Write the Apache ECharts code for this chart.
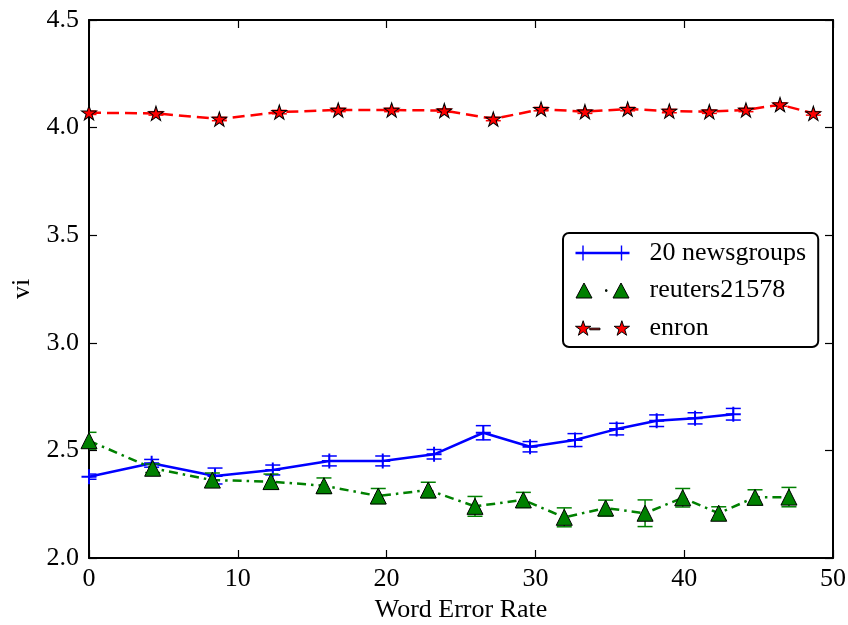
<!DOCTYPE html>
<html><head><meta charset="utf-8">
<script src="https://cdn.jsdelivr.net/npm/echarts@6/dist/echarts.min.js"></script>
<style>html,body{margin:0;padding:0;background:#fff}#c{width:848px;height:625px}</style>
</head><body><div id="c"></div>
<script>
// ---- data ----
const seriesNames = ['20 newsgroups', 'reuters21578', 'enron'];
const newsX = [0, 4.21, 8.47, 12.35, 16.15, 19.74, 23.19, 26.5, 29.64, 32.66, 35.46, 38.15, 40.73, 43.3];
const newsY = [2.378, 2.44, 2.381, 2.409, 2.451, 2.451, 2.482, 2.582, 2.517, 2.548, 2.599, 2.638, 2.649, 2.668];
const newsE = [0.012, 0.018, 0.037, 0.023, 0.023, 0.023, 0.022, 0.033, 0.024, 0.03, 0.027, 0.027, 0.026, 0.027];
const reutX = [0, 4.28, 8.29, 12.23, 15.79, 19.44, 22.8, 25.94, 29.19, 31.94, 34.72, 37.37, 39.9, 42.32, 44.76, 47.04];
const reutY = [2.545, 2.417, 2.362, 2.355, 2.336, 2.288, 2.316, 2.24, 2.27, 2.189, 2.232, 2.208, 2.28, 2.208, 2.282, 2.283];
const reutE = [0.039, 0.02, 0.033, 0.035, 0.036, 0.035, 0.036, 0.046, 0.035, 0.044, 0.037, 0.062, 0.043, 0.03, 0.035, 0.045];
const enronX = [0, 4.5, 8.76, 12.79, 16.75, 20.34, 23.88, 27.17, 30.38, 33.33, 36.2, 39.0, 41.69, 44.15, 46.44, 48.68];
const enronY = [4.069, 4.066, 4.04, 4.072, 4.082, 4.082, 4.079, 4.04, 4.086, 4.074, 4.086, 4.077, 4.074, 4.082, 4.107, 4.066];
const enronE = [0.008, 0.008, 0.008, 0.008, 0.008, 0.008, 0.008, 0.008, 0.008, 0.008, 0.008, 0.008, 0.008, 0.008, 0.008, 0.008];
const xTicks = [0, 10, 20, 30, 40, 50];
const yTicks = [2.0, 2.5, 3.0, 3.5, 4.0, 4.5];
const xTitle = 'Word Error Rate';
const yTitle = 'vi';

// ---- styling helpers ----
const FONT = '"Liberation Serif", "DejaVu Serif", serif';
function starPts(cx, cy, r) {
  const pts = [];
  for (let k = 0; k < 10; k++) {
    const a = k * Math.PI / 5;
    const rr = (k % 2 === 0) ? r : r * 0.381966;
    pts.push([(cx + rr * Math.sin(a)).toFixed(3), (cy - rr * Math.cos(a)).toFixed(3)]);
  }
  return 'M' + pts.map(p => p[0] + ',' + p[1]).join('L') + 'Z';
}
const starSymbol = 'path://' + starPts(50, 50, 50);
const plusSymbol = 'path://M0,8.7H20V11.3H0ZM8.7,0H11.3V20H8.7Z';
const legendNews = 'path://M0,6.3H54V8.7H0ZM6.8,0H8.2V15H6.8ZM0,6.8H15V8.2H0ZM38.5,6.8H53.5V8.2H38.5ZM45.3,0H46.7V15H45.3Z';
const legendReut = 'path://M8,0L16,15H0ZM45,0L53,15H37ZM29.5,6.8H31V8.3H29.5Z';
const legendEnron = 'path://' + starPts(7.5, 7.9, 7.9) + 'M14,7.3H24V8.9H14Z' + starPts(45.5, 7.9, 7.9);

function errSeries(xs, ys, es, color, z) {
  return {
    type: 'custom', silent: true, z: z, clip: true,
    data: xs.map((x, i) => [x, ys[i] - es[i], ys[i] + es[i]]),
    encode: { x: 0, y: [1, 2] },
    renderItem: function (params, api) {
      const x = api.value(0);
      const lo = api.coord([x, api.value(1)]);
      const hi = api.coord([x, api.value(2)]);
      const hw = 7.5;
      const st = { stroke: color, lineWidth: 1.5, fill: null };
      return { type: 'group', children: [
        { type: 'line', shape: { x1: lo[0], y1: lo[1], x2: hi[0], y2: hi[1] }, style: st },
        { type: 'line', shape: { x1: lo[0] - hw, y1: lo[1], x2: lo[0] + hw, y2: lo[1] }, style: st },
        { type: 'line', shape: { x1: hi[0] - hw, y1: hi[1], x2: hi[0] + hw, y2: hi[1] }, style: st }
      ] };
    }
  };
}
const pair = (xs, ys) => xs.map((x, i) => [x, ys[i]]);

const axisCommon = {
  axisLine: { show: true, onZero: false, lineStyle: { color: '#000', width: 2 } },
  axisTick: { show: true, inside: true, length: 8, lineStyle: { color: '#000', width: 1.2 } },
  splitLine: { show: false }
};
const labelStyle = { color: '#000', fontFamily: FONT, fontSize: 26 };

const chart = echarts.init(document.getElementById('c'), null, { renderer: 'canvas' });
chart.setOption({
  animation: false,
  backgroundColor: '#fff',
  grid: { left: 89, right: 15, top: 20, bottom: 67, containLabel: false, outerBoundsMode: 'none' },
  xAxis: [
    Object.assign({ type: 'value', min: xTicks[0], max: xTicks[xTicks.length - 1], interval: 10,
      name: xTitle, nameLocation: 'middle', nameGap: 39,
      nameTextStyle: labelStyle,
      axisLabel: Object.assign({ margin: 8, formatter: v => String(v) }, labelStyle) }, axisCommon),
    Object.assign({ type: 'value', position: 'top', min: xTicks[0], max: xTicks[xTicks.length - 1], interval: 10,
      axisLabel: { show: false } }, axisCommon)
  ],
  yAxis: [
    Object.assign({ type: 'value', min: yTicks[0], max: yTicks[yTicks.length - 1], interval: 0.5,
      name: yTitle, nameLocation: 'middle', nameGap: 50,
      nameTextStyle: labelStyle,
      axisLabel: Object.assign({ margin: 10, formatter: v => v.toFixed(1) }, labelStyle) }, axisCommon),
    Object.assign({ type: 'value', position: 'right', min: yTicks[0], max: yTicks[yTicks.length - 1], interval: 0.5,
      axisLabel: { show: false } }, axisCommon)
  ],
  legend: {
    orient: 'vertical', left: 563, top: 233,
    backgroundColor: '#fff', borderColor: '#000', borderWidth: 2, borderRadius: 6,
    padding: [7, 12, 6, 12], itemGap: 11.5, itemWidth: 54, itemHeight: 15,
    selectedMode: false,
    textStyle: Object.assign({ padding: [0, 0, 0, 15] }, labelStyle),
    data: [
      { name: seriesNames[0], icon: legendNews, itemStyle: { color: '#0000ff', borderWidth: 0 } },
      { name: seriesNames[1], icon: legendReut, itemStyle: { color: '#008000', borderColor: '#000', borderWidth: 1 } },
      { name: seriesNames[2], icon: legendEnron, itemStyle: { color: '#ff0000', borderColor: '#000', borderWidth: 1 } }
    ]
  },
  series: [
    errSeries(newsX, newsY, newsE, '#0000ff', 2),
    { type: 'line', name: seriesNames[0], z: 3, data: pair(newsX, newsY), symbol: plusSymbol, symbolSize: 15,
      showAllSymbol: true, silent: true, clip: true,
      lineStyle: { color: '#0000ff', width: 2.5 }, itemStyle: { color: '#0000ff', borderWidth: 0 } },
    errSeries(reutX, reutY, reutE, '#008000', 4),
    { type: 'line', name: seriesNames[1], z: 5, data: pair(reutX, reutY), symbol: 'triangle', symbolSize: 16,
      showAllSymbol: true, silent: true, clip: true,
      lineStyle: { color: '#008000', width: 2.5, type: [9, 5, 2.5, 5] },
      itemStyle: { color: '#008000', borderColor: '#000', borderWidth: 1 } },
    errSeries(enronX, enronY, enronE, '#ff0000', 6),
    { type: 'line', name: seriesNames[2], z: 7, data: pair(enronX, enronY), symbol: starSymbol, symbolSize: [15, 14.3],
      showAllSymbol: true, silent: true, clip: true,
      lineStyle: { color: '#ff0000', width: 2.5, type: [12, 6] },
      itemStyle: { color: '#ff0000', borderColor: '#000', borderWidth: 1 } }
  ]
});
</script>
</body></html>
